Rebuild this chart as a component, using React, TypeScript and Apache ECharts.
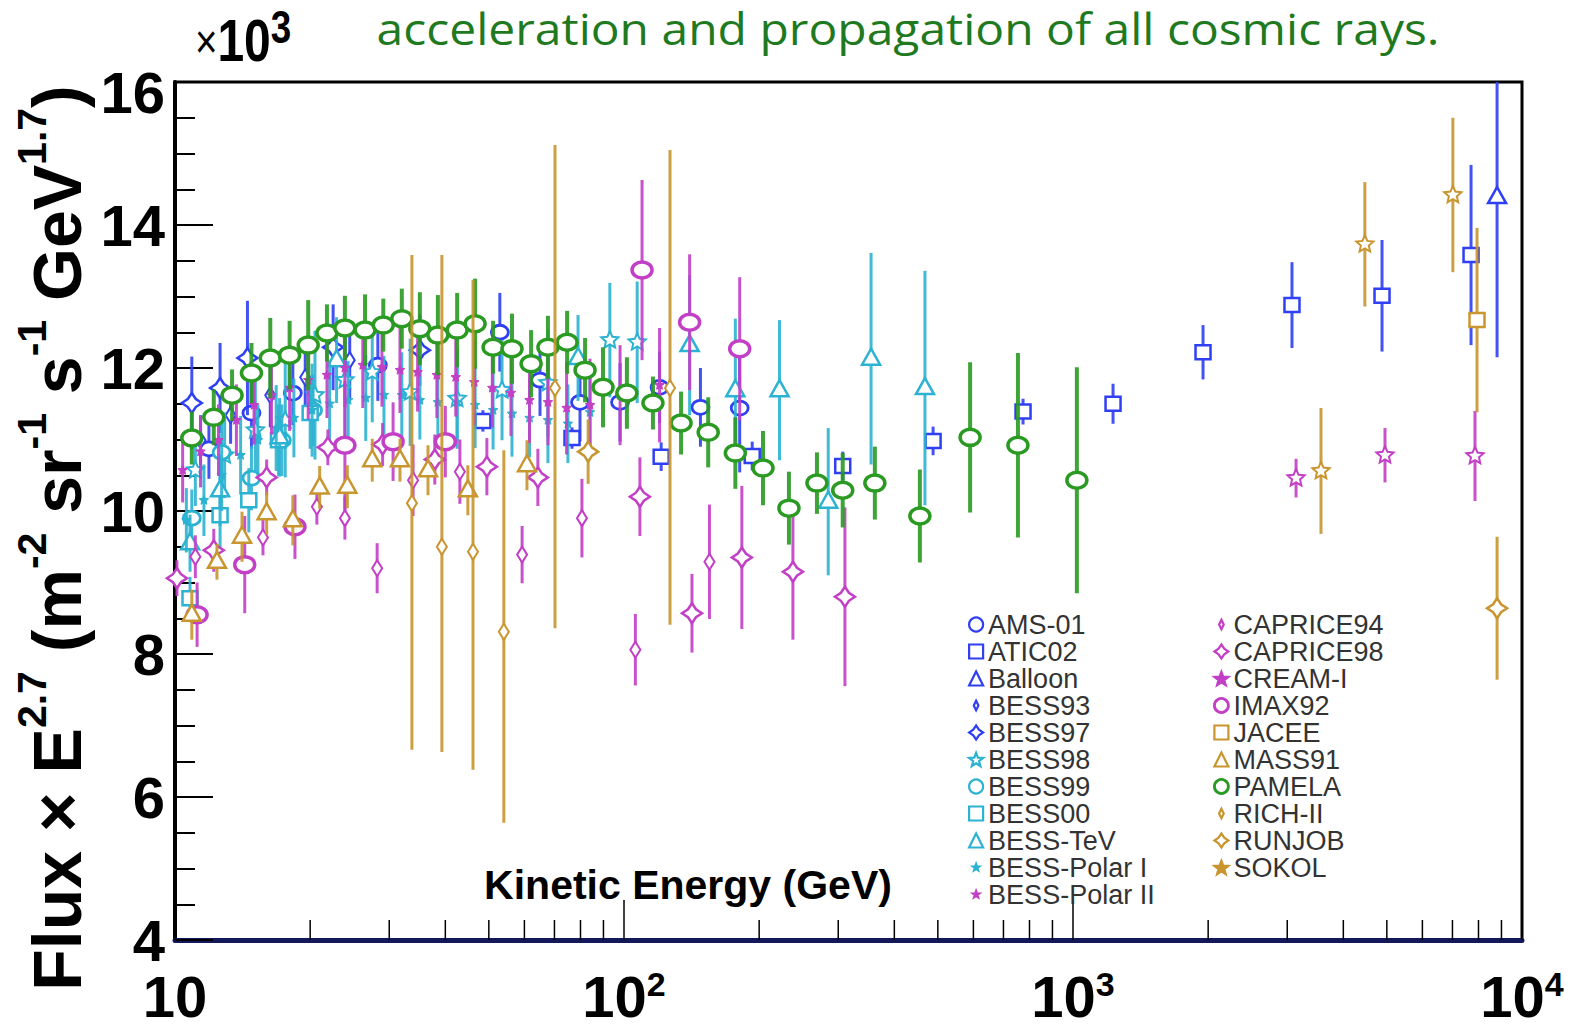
import React, { useEffect, useRef } from "react";
import * as echarts from "echarts";

// Each point: [kinetic energy (GeV), flux × E^2.7 (×10^3), error]
// or [energy, flux, error below, error above] when the bar is asymmetric.
type Pt = number[];

const AMS01: Pt[] = [
  [11.9, 10.87, 0.42], [14.8, 11.37, 0.5], [18.3, 11.65, 0.45], [28.3, 12.04, 0.5],
  [52.9, 12.5, 0.55], [65.0, 11.83, 0.5], [79.8, 11.52, 0.55], [98.0, 11.52, 0.55],
  [120, 11.73, 0.5], [148, 11.45, 0.55], [181, 11.44, 0.9],
];
const ATIC02: Pt[] = [
  [48.5, 11.26, 0.15], [76.6, 11.02, 0.15], [121, 10.76, 0.2], [193, 10.77, 0.2],
  [307, 10.63, 0.2], [488, 10.98, 0.2], [774, 11.39, 0.18], [1228, 11.5, 0.28],
  [1948, 12.22, 0.38], [3074, 12.88, 0.6], [4878, 13.01, 0.78], [7700, 13.58, 1.26],
];
const BALLOON: Pt[] = [[8800, 14.39, 2.24]];
const BESS93: Pt[] = [
  [11.4, 10.99, 0.35], [13.3, 11.34, 0.4], [16.3, 11.62, 0.45], [19.5, 11.87, 0.5], [24.5, 12.11, 0.55],
];
const BESS97: Pt[] = [
  [10.9, 11.51, 0.65], [12.6, 11.72, 0.63], [14.5, 12.14, 0.8], [22.5, 12.29, 0.6], [35.1, 12.25, 0.5],
];
const BESS98: Pt[] = [
  [11.1, 10.57, 0.5], [12.9, 10.78, 0.6], [15.1, 11.13, 0.7], [17.6, 11.27, 0.8], [20.5, 11.62, 0.9],
  [23.9, 11.83, 0.8], [27.5, 11.94, 0.7], [33.4, 11.66, 0.75], [42.5, 11.57, 0.7], [53.5, 11.69, 0.7],
  [67.7, 11.79, 0.75], [93.0, 12.39, 0.8], [107, 12.36, 0.85],
];
const BESS99: Pt[] = [
  [10.9, 9.9, 0.4], [12.7, 10.82, 0.45], [14.8, 10.46, 0.45], [17.3, 10.99, 0.5], [20.3, 11.41, 0.5],
];
const BESS00: Pt[] = [
  [10.8, 8.78, 0.3], [12.6, 9.94, 0.45], [14.6, 10.15, 0.45], [17.0, 10.99, 0.5], [20.0, 11.37, 0.5],
];
const BESS_TEV: Pt[] = [
  [10.8, 9.55, 0.4], [12.6, 10.29, 0.5], [17.1, 11.03, 0.55], [22.9, 12.11, 0.6], [79.0, 12.14, 0.6],
  [140, 12.32, 0.98], [177, 11.69, 1.0], [222, 11.69, 0.98], [285, 10.13, 1.03], [355, 12.13, 1.48],
  [468, 11.72, 1.64],
];
const BESS_POLAR_I: Pt[] = [
  [10.6, 9.87, 0.45], [11.6, 10.15, 0.5], [12.7, 10.5, 0.5], [14.0, 10.78, 0.55], [15.3, 10.99, 0.5],
  [16.8, 11.16, 0.6], [18.4, 11.3, 0.55], [20.2, 11.41, 0.65], [22.1, 11.5, 0.6], [24.3, 11.55, 0.55],
  [26.6, 11.58, 0.6], [29.2, 11.62, 0.55], [32.0, 11.62, 0.6], [35.1, 11.55, 0.55], [38.5, 11.52, 0.6],
  [42.5, 11.52, 0.55], [46.6, 11.48, 0.6], [51.1, 11.41, 0.55], [56.3, 11.36, 0.6], [61.6, 11.3, 0.55],
  [67.7, 11.27, 0.6], [75.0, 11.22, 0.55], [84.0, 11.38, 0.6],
];
const BESS_POLAR_II: Pt[] = [
  [10.4, 10.57, 0.45], [11.4, 10.83, 0.5], [12.5, 10.99, 0.5], [13.7, 11.27, 0.5], [15.0, 11.48, 0.55],
  [16.4, 11.62, 0.55], [18.0, 11.72, 0.6], [19.8, 11.83, 0.55], [21.8, 11.9, 0.6], [23.9, 12.0, 0.55],
  [26.2, 12.04, 0.6], [28.9, 12.01, 0.55], [31.7, 11.97, 0.6], [34.7, 11.94, 0.55], [38.3, 11.9, 0.6],
  [42.2, 11.87, 0.55], [46.4, 11.8, 0.6], [50.9, 11.72, 0.55], [56.0, 11.65, 0.6], [61.6, 11.55, 0.6],
  [67.7, 11.52, 0.6], [74.5, 11.44, 0.65], [84.0, 11.48, 0.65], [98.0, 11.62, 0.7], [120, 11.76, 0.8],
];
const CAPRICE94: Pt[] = [
  [11.1, 9.36, 0.3], [15.7, 9.63, 0.25], [20.7, 10.06, 0.25], [23.9, 9.9, 0.3], [28.2, 9.2, 0.35],
  [33.9, 10.43, 0.5], [43.1, 10.55, 0.45], [59.3, 9.39, 0.4], [80.6, 9.9, 0.55], [106, 8.06, 0.5],
  [155, 9.29, 0.8],
];
const CAPRICE98: Pt[] = [
  [10.1, 9.06, 0.25], [12.2, 9.45, 0.3], [16.0, 10.47, 0.25], [21.9, 10.89, 0.25], [29.0, 10.93, 0.3],
  [37.9, 10.72, 0.35], [49.5, 10.62, 0.4], [64.3, 10.47, 0.4], [108.5, 10.2, 0.55], [141.7, 8.57, 0.55],
  [183, 9.35, 1.0], [237.8, 9.15, 0.95], [310.5, 8.8, 1.25],
];
const CREAM_I: Pt[] = [[3139, 10.46, 0.27], [4953, 10.78, 0.38], [7858, 10.77, 0.63]];
const IMAX92: Pt[] = [
  [11.2, 8.55, 0.45], [14.3, 9.25, 0.68], [18.5, 9.78, 0.45], [23.9, 10.92, 0.9], [30.6, 10.97, 0.55],
  [40.0, 10.97, 0.5], [109.7, 13.37, 1.26], [140, 12.64, 0.95], [181, 12.27, 1.0],
];
const JACEE: Pt[] = [[7940, 12.67, 1.29]];
const MASS91: Pt[] = [
  [10.9, 8.55, 0.35], [12.4, 9.29, 0.25], [14.1, 9.64, 0.35], [16.0, 9.97, 0.3], [18.3, 9.87, 0.35],
  [21.0, 10.33, 0.3], [24.2, 10.34, 0.3], [27.5, 10.71, 0.3], [31.7, 10.71, 0.3], [36.6, 10.57, 0.35],
  [44.9, 10.29, 0.35], [60.8, 10.64, 0.35],
];
const PAMELA: Pt[] = [
  [10.9, 11.02, 0.37], [12.2, 11.31, 0.39], [13.4, 11.62, 0.36], [14.8, 11.93, 0.42], [16.3, 12.14, 0.56],
  [18.0, 12.18, 0.48], [19.8, 12.32, 0.63], [21.8, 12.49, 0.4], [23.9, 12.56, 0.45], [26.5, 12.53, 0.5],
  [29.1, 12.6, 0.37], [32.0, 12.69, 0.42], [35.1, 12.55, 0.51], [38.5, 12.46, 0.56], [42.5, 12.53, 0.52],
  [46.6, 12.62, 0.63], [51.1, 12.29, 0.37], [56.3, 12.27, 0.49], [62.1, 12.06, 0.47], [67.7, 12.29, 0.44],
  [74.7, 12.36, 0.44], [81.9, 11.97, 0.45], [89.8, 11.73, 0.56], [101.5, 11.65, 0.5], [116, 11.51, 0.37],
  [134, 11.23, 0.44], [154, 11.1, 0.49], [177, 10.81, 0.5], [204, 10.6, 0.52], [233, 10.04, 0.51],
  [269, 10.39, 0.43], [307, 10.29, 0.52], [362, 10.39, 0.51], [456, 9.93, 0.65], [590, 11.03, 1.05],
  [754, 10.92, 1.29], [1020, 10.43, 1.58],
];
const RICH_II: Pt[] = [
  [33.7, 10.11, 3.45, 3.47], [39.3, 9.5, 2.87, 4.08], [46.1, 9.43, 3.05, 3.8],
  [54.0, 8.31, 2.67, 2.54], [70.2, 11.72, 3.36, 3.4], [126.6, 11.72, 3.31, 3.33],
];
const RUNJOB: Pt[] = [[83.2, 10.83, 0.45], [8800, 8.64, 1.0]];
const SOKOL: Pt[] = [[3567, 10.56, 0.88], [4467, 13.73, 0.87], [7015, 14.42, 1.08]];

// Axis ranges and tick values
const X_MIN = 10;
const X_MAX = 10000;
const Y_MIN = 4;
const Y_MAX = 16;
const X_MINOR_TICKS = [
  20, 30, 40, 50, 60, 70, 80, 90,
  200, 300, 400, 500, 600, 700, 800, 900,
  2000, 3000, 4000, 5000, 6000, 7000, 8000, 9000,
];

const HEADLINE = "acceleration and propagation of all cosmic rays.";
const X_TITLE = "Kinetic Energy (GeV)";

const BLUE = "#2f3ff3";
const CYAN = "#2cb2d2";
const MAGENTA = "#c23fc6";
const GOLD = "#c8952f";
const GREEN = "#2a9a22";
const FONT = "'Liberation Sans', Arial, Helvetica, sans-serif";

type Marker = "circle" | "square" | "triangle" | "diamond" | "crossDiamond" | "star" | "smallStar";

interface Experiment {
  name: string;
  data: Pt[];
  color: string;
  marker: Marker;
  big?: boolean;
}

const EXPERIMENTS: Experiment[] = [
  { name: "AMS-01", data: AMS01, color: BLUE, marker: "circle" },
  { name: "ATIC02", data: ATIC02, color: BLUE, marker: "square" },
  { name: "Balloon", data: BALLOON, color: BLUE, marker: "triangle" },
  { name: "BESS93", data: BESS93, color: BLUE, marker: "diamond" },
  { name: "BESS97", data: BESS97, color: BLUE, marker: "crossDiamond" },
  { name: "BESS98", data: BESS98, color: CYAN, marker: "star" },
  { name: "BESS99", data: BESS99, color: CYAN, marker: "circle" },
  { name: "BESS00", data: BESS00, color: CYAN, marker: "square" },
  { name: "BESS-TeV", data: BESS_TEV, color: CYAN, marker: "triangle" },
  { name: "BESS-Polar I", data: BESS_POLAR_I, color: CYAN, marker: "smallStar" },
  { name: "BESS-Polar II", data: BESS_POLAR_II, color: MAGENTA, marker: "smallStar" },
  { name: "CAPRICE94", data: CAPRICE94, color: MAGENTA, marker: "diamond" },
  { name: "CAPRICE98", data: CAPRICE98, color: MAGENTA, marker: "crossDiamond" },
  { name: "CREAM-I", data: CREAM_I, color: MAGENTA, marker: "star" },
  { name: "IMAX92", data: IMAX92, color: MAGENTA, marker: "circle", big: true },
  { name: "JACEE", data: JACEE, color: GOLD, marker: "square" },
  { name: "MASS91", data: MASS91, color: GOLD, marker: "triangle" },
  { name: "PAMELA", data: PAMELA, color: GREEN, marker: "circle", big: true },
  { name: "RICH-II", data: RICH_II, color: GOLD, marker: "diamond" },
  { name: "RUNJOB", data: RUNJOB, color: GOLD, marker: "crossDiamond" },
  { name: "SOKOL", data: SOKOL, color: GOLD, marker: "star" },
];

function starPoints(x: number, y: number, ro: number, ri: number): number[][] {
  const pts: number[][] = [];
  for (let i = 0; i < 10; i++) {
    const r = i % 2 === 0 ? ro : ri;
    const a = -Math.PI / 2 + (i * Math.PI) / 5;
    pts.push([x + r * Math.cos(a), y + r * Math.sin(a)]);
  }
  return pts;
}

function markerElement(kind: Marker, x: number, y: number, color: string, big?: boolean): any {
  const open = { fill: "#fff", stroke: color, lineWidth: 2.5 };
  switch (kind) {
    case "circle":
      return big
        ? { type: "ellipse", shape: { cx: x, cy: y, rx: 10, ry: 8 }, style: { ...open, lineWidth: 3.5 } }
        : { type: "ellipse", shape: { cx: x, cy: y, rx: 8.5, ry: 7 }, style: { ...open, lineWidth: 2.8 } };
    case "square":
      return { type: "rect", shape: { x: x - 7.5, y: y - 7, width: 15, height: 14 }, style: open };
    case "triangle":
      return { type: "polygon", shape: { points: [[x, y - 10], [x + 9, y + 6], [x - 9, y + 6]] }, style: open };
    case "diamond":
      return {
        type: "polygon",
        shape: { points: [[x, y - 8], [x + 5, y], [x, y + 8], [x - 5, y]] },
        style: { ...open, lineWidth: 2 },
      };
    case "crossDiamond":
      return {
        type: "polygon",
        shape: {
          points: [[x, y - 10], [x + 4, y - 4], [x + 10, y], [x + 4, y + 4], [x, y + 10], [x - 4, y + 4], [x - 10, y], [x - 4, y - 4]],
        },
        style: { ...open, lineWidth: 2.5 },
      };
    case "star":
      return { type: "polygon", shape: { points: starPoints(x, y, 9, 4.2) }, style: { ...open, lineWidth: 2 } };
    case "smallStar":
      return { type: "polygon", shape: { points: starPoints(x, y, 5, 2.3) }, style: { fill: color, stroke: color, lineWidth: 1 } };
  }
}

const STAR_PATH =
  "M12 2 L14.47 8.6 L21.51 8.91 L15.99 13.3 L17.88 20.09 L12 16.2 L6.12 20.09 L8.01 13.3 L2.49 8.91 L9.53 8.6 Z";

function legendIcon(kind: Marker): string {
  switch (kind) {
    case "circle":
      return "circle";
    case "square":
      return "rect";
    case "triangle":
      return "triangle";
    case "diamond":
      return "path://M12 4 L16 12 L12 20 L8 12 Z M0 0 M24 24";
    case "crossDiamond":
      return "path://M12 1 L16.5 7.5 L23 12 L16.5 16.5 L12 23 L7.5 16.5 L1 12 L7.5 7.5 Z";
    case "star":
      return "path://" + STAR_PATH;
    case "smallStar":
      return "path://" + STAR_PATH + " M-8 -8 M32 32";
  }
}

function legendEntry(ex: Experiment) {
  const filled = ex.marker === "smallStar" || ex.name === "CREAM-I" || ex.name === "SOKOL";
  return {
    name: ex.name,
    icon: legendIcon(ex.marker),
    itemStyle: {
      color: filled ? ex.color : "#fff",
      borderColor: ex.color,
      borderWidth: ex.big ? 2.8 : 2.2,
    },
  };
}

function toRows(pts: Pt[]): number[][] {
  return pts.map((p) => (p.length === 3 ? [p[0], p[1], p[2], p[2]] : p));
}

function buildOption(): any {
  const pointSeries = EXPERIMENTS.map((ex) => ({
    type: "custom",
    name: ex.name,
    coordinateSystem: "cartesian2d",
    itemStyle: { color: ex.color },
    dimensions: ["energy", "flux", "errDown", "errUp"],
    encode: { x: 0, y: 1 },
    data: toRows(ex.data),
    silent: true,
    renderItem: (params: any, api: any) => {
      const e = api.value(0);
      const f = api.value(1);
      const dn = api.value(2);
      const up = api.value(3);
      const cs = params.coordSys;
      const c = api.coord([e, f]);
      const top = Math.max(cs.y, api.coord([e, f + up])[1]);
      const bot = Math.min(cs.y + cs.height, api.coord([e, f - dn])[1]);
      const children: any[] = [];
      if (bot > top) {
        children.push({
          type: "line",
          shape: { x1: c[0], y1: top, x2: c[0], y2: bot },
          style: { stroke: ex.color, lineWidth: ex.color === GREEN ? 4 : 3, opacity: 0.9 },
        });
      }
      children.push(markerElement(ex.marker, c[0], c[1], ex.color, ex.big));
      return { type: "group", children };
    },
  }));

  const minorTickSeries = {
    type: "custom",
    name: "minor-ticks",
    coordinateSystem: "cartesian2d",
    silent: true,
    data: X_MINOR_TICKS.map((e) => [e, Y_MIN]),
    encode: { x: 0, y: 1 },
    renderItem: (_params: any, api: any) => {
      const p = api.coord([api.value(0), api.value(1)]);
      return {
        type: "line",
        shape: { x1: p[0], y1: p[1], x2: p[0], y2: p[1] - 20 },
        style: { stroke: "#000", lineWidth: 1.5 },
      };
    },
  };

  const legendBase = {
    orient: "vertical",
    top: 606,
    itemWidth: 14,
    itemHeight: 14,
    itemGap: 0,
    selectedMode: false,
    textStyle: { fontSize: 27, color: "#333", fontFamily: FONT },
  };

  return {
    animation: false,
    backgroundColor: "#fff",
    grid: {
      left: 175,
      right: 51,
      top: 82,
      bottom: 88,
      show: true,
      borderColor: "#000",
      borderWidth: 3,
      backgroundColor: "#fff",
    },
    legend: [
      { ...legendBase, left: 963, data: EXPERIMENTS.slice(0, 11).map(legendEntry) },
      { ...legendBase, left: 1208, data: EXPERIMENTS.slice(11).map(legendEntry) },
    ],
    xAxis: {
      type: "log",
      logBase: 10,
      min: X_MIN,
      max: X_MAX,
      axisLine: { lineStyle: { color: "#12185a", width: 5 } },
      axisTick: { inside: true, length: 40, lineStyle: { color: "#000", width: 1.5 } },
      splitLine: { show: false },
      axisLabel: {
        margin: 27,
        color: "#000",
        formatter: (v: number) => {
          const p = Math.round(Math.log10(v));
          return p === 1 ? "{b|10}" : `{b|10}{s|${p}}`;
        },
        rich: {
          b: { fontSize: 58, fontWeight: "bold", fontFamily: FONT, lineHeight: 58, color: "#000" },
          s: { fontSize: 34, fontWeight: "bold", fontFamily: FONT, lineHeight: 34, verticalAlign: "top", color: "#000" },
        },
      },
    },
    yAxis: {
      type: "value",
      min: Y_MIN,
      max: Y_MAX,
      interval: 2,
      axisLine: { show: true, lineStyle: { color: "#000", width: 4 } },
      axisTick: { inside: true, length: 38, lineStyle: { color: "#000", width: 2 } },
      minorTick: { show: true, splitNumber: 4, length: 20, lineStyle: { color: "#000", width: 2 } },
      splitLine: { show: false },
      axisLabel: {
        margin: 10,
        color: "#000",
        formatter: (v: number) => (v === Y_MAX ? `{top|${v}}` : `{n|${v}}`),
        rich: {
          n: { fontSize: 58, fontWeight: "bold", fontFamily: FONT, color: "#000" },
          top: { fontSize: 58, fontWeight: "bold", fontFamily: FONT, color: "#000", padding: [20, 0, 0, 0] },
        },
      },
    },
    graphic: [
      {
        type: "text",
        x: 908,
        y: 28,
        scaleY: 0.9,
        style: {
          text: HEADLINE,
          fontSize: 48,
          fontFamily: "'Open Sans', sans-serif",
          fill: "#1f7a1f",
          align: "center",
          verticalAlign: "middle",
        },
      },
      {
        type: "text",
        x: 195,
        y: 41,
        scaleX: 0.8,
        style: {
          text: "{x|×}{b|10}{s|3}",
          align: "left",
          verticalAlign: "middle",
          rich: {
            x: { fontSize: 48, fontFamily: FONT, fill: "#000", lineHeight: 74 },
            b: { fontSize: 60, fontWeight: "bold", fontFamily: FONT, fill: "#000", lineHeight: 74 },
            s: { fontSize: 46, fontWeight: "bold", fontFamily: FONT, fill: "#000", lineHeight: 48, verticalAlign: "top" },
          },
        },
      },
      {
        type: "text",
        x: 57,
        y: 538,
        rotation: Math.PI / 2,
        style: {
          text: "{m|Flux × E}{s|2.7}{m| (m}{s|-2}{m| sr}{s|-1}{m| s}{s|-1}{m| GeV}{s|1.7}{m|)}",
          align: "center",
          verticalAlign: "middle",
          rich: {
            m: { fontSize: 68, fontWeight: "bold", fontFamily: FONT, fill: "#000", lineHeight: 92 },
            s: { fontSize: 41, fontWeight: "bold", fontFamily: FONT, fill: "#000", lineHeight: 41, verticalAlign: "top" },
          },
        },
      },
      {
        type: "text",
        x: 688,
        y: 885,
        style: {
          text: X_TITLE,
          fontSize: 41,
          fontWeight: "bold",
          fontFamily: FONT,
          fill: "#000",
          align: "center",
          verticalAlign: "middle",
        },
      },
    ],
    series: [minorTickSeries, ...pointSeries],
  };
}

export default function App() {
  const ref = useRef<HTMLDivElement>(null);
  useEffect(() => {
    if (!ref.current) return;
    const chart = echarts.init(ref.current, undefined, { renderer: "svg" });
    chart.setOption(buildOption());
    return () => chart.dispose();
  }, []);
  return (
    <div
      ref={ref}
      style={{ position: "fixed", left: 0, top: 0, width: 1573, height: 1028, background: "#fff" }}
    />
  );
}
